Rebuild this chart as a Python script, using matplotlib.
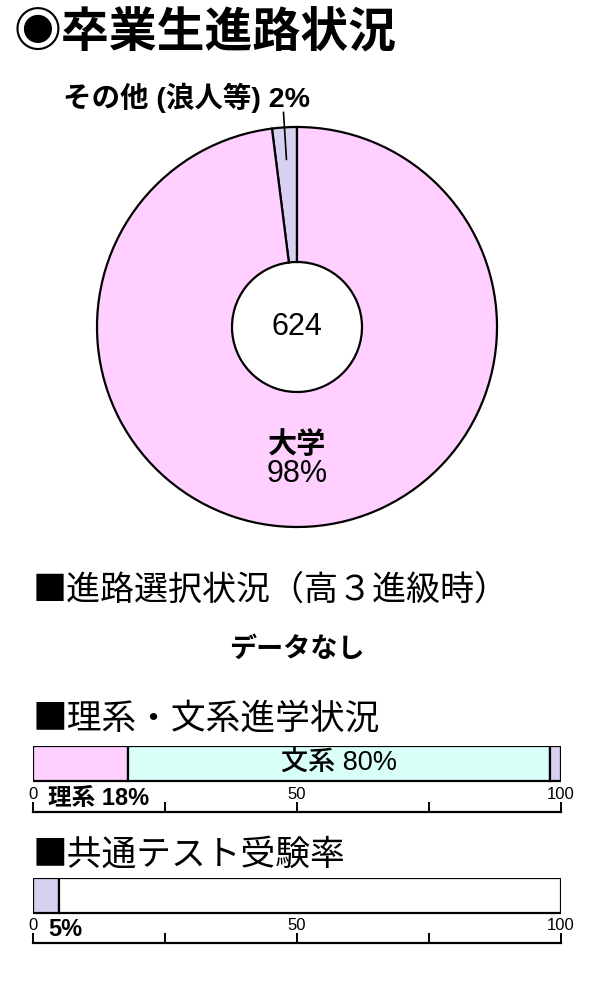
import matplotlib
matplotlib.use("Agg")
import matplotlib.pyplot as plt
import numpy as np

plt.rcParams["font.family"] = ["Noto Sans CJK JP", "DejaVu Sans"]
num_font = ["Liberation Sans", "Noto Sans CJK JP"]

# data
title = "◉卒業生進路状況"
pie_labels = ["その他(浪人等)", "大学"]
pie_values = [2, 98]
total = 624

course_header = "■進路選択状況（高３進級時）"
course_note = "データなし"

bunri_header = "■理系・文系進学状況"
bunri_labels = ["理系", "文系", "その他"]
bunri_values = [18, 80, 2]

kyotsu_header = "■共通テスト受験率"
kyotsu_values = [5, 95]

axis_ticks = [0, 25, 50, 75, 100]
axis_ticklabels = {0: "0", 50: "50", 100: "100"}

pink = "#ffd0ff"
lavender = "#d8d0f0"
cyan = "#d8fff8"

fig = plt.figure(figsize=(6, 10), dpi=100)
fig.patch.set_facecolor("white")

fig.text(0.022, 0.968, title, fontsize=34.5, fontweight="bold", va="center", ha="left")

# donut
ax = fig.add_axes([97 / 600, 1 - 527 / 1000, 400 / 600, 400 / 1000])
wedges, _ = ax.pie(pie_values, colors=[lavender, pink], startangle=90, counterclock=True,
                   radius=1, wedgeprops={"width": 0.675, "edgecolor": "black", "linewidth": 1.6})
ax.set_xlim(-1, 1)
ax.set_ylim(-1, 1)
ax.set_aspect("equal")
ax.axis("off")

ax.text(0, 0, str(total), fontsize=22, family=num_font, ha="center", va="center")
ax.text(0, -0.585, pie_labels[1], fontsize=21, fontweight="bold", ha="center", va="center")
ax.text(0, -0.735, "{}%".format(pie_values[1]), fontsize=22, family=num_font,
        ha="center", va="center")

w = wedges[0]
ang = np.deg2rad((w.theta1 + w.theta2) / 2)
ax.plot([0.84 * np.cos(ang), 1.075 * np.cos(ang)], [0.84 * np.sin(ang), 1.075 * np.sin(ang)],
        color="black", lw=1.2, clip_on=False)
ax.text(0.065, 1.145, pie_labels[0].replace("(", " (").replace(")", ") ") + "{}%".format(pie_values[0]),
        fontsize=20.5, fontweight="bold", family=num_font, ha="right", va="center")

fig.text(0.055, 0.41, course_header, fontsize=24.5, va="center", ha="left")
fig.text(0.495, 0.351, course_note, fontsize=19.5, fontweight="bold", va="center", ha="center")
fig.text(0.055, 0.281, bunri_header, fontsize=25, va="center", ha="left")
fig.text(0.055, 0.145, kyotsu_header, fontsize=25, va="center", ha="left")


def bar_axes(top_px, bot_px):
    # bar occupies y in [-0.5, 0.5]; axis line sits below it
    ax = fig.add_axes([33 / 600, 1 - bot_px / 1000, 528 / 600, (bot_px - top_px) / 1000])
    bar_h = 35
    ax.set_ylim(-0.5 - (bot_px - top_px - bar_h) / bar_h, 0.5)
    ax.set_xlim(0, 100)
    for s in ["top", "left", "right"]:
        ax.spines[s].set_visible(False)
    ax.spines["bottom"].set_linewidth(1.6)
    ax.set_yticks([])
    ax.set_xticks(axis_ticks)
    ax.set_xticklabels([])
    ax.tick_params(axis="x", direction="in", length=7, width=1.4)
    ylo = ax.get_ylim()[0]
    for t, lab in axis_ticklabels.items():
        ax.text(t, ylo + 0.5, lab, fontsize=12, family=num_font, ha="center", va="center",
                clip_on=False)
    return ax


# 理系・文系
ax1 = bar_axes(746, 812)
left = 0
cols = [pink, cyan, lavender]
for v, c in zip(bunri_values, cols):
    ax1.barh(0, v, left=left, height=1, color=c, edgecolor="black", linewidth=1.6)
    left += v
ax1.text(bunri_values[0] + bunri_values[1] / 2, 0, "{} {}%".format(bunri_labels[1], bunri_values[1]),
         fontsize=19.5, fontweight="medium", family=num_font, ha="center", va="center")
ax1.text(2.8, ax1.get_ylim()[0] + 0.38, "{} {}%".format(bunri_labels[0], bunri_values[0]),
         fontsize=17, fontweight="bold", family=num_font, ha="left", va="center")

# 共通テスト
ax2 = bar_axes(878, 943)
left = 0
for v, c in zip(kyotsu_values, [lavender, "white"]):
    ax2.barh(0, v, left=left, height=1, color=c, edgecolor="black", linewidth=1.6)
    left += v
ax2.text(2.8, ax2.get_ylim()[0] + 0.38, "{}%".format(kyotsu_values[0]),
         fontsize=17, fontweight="bold", family=num_font, ha="left", va="center")

plt.savefig("out.png", dpi=100, facecolor="white")
